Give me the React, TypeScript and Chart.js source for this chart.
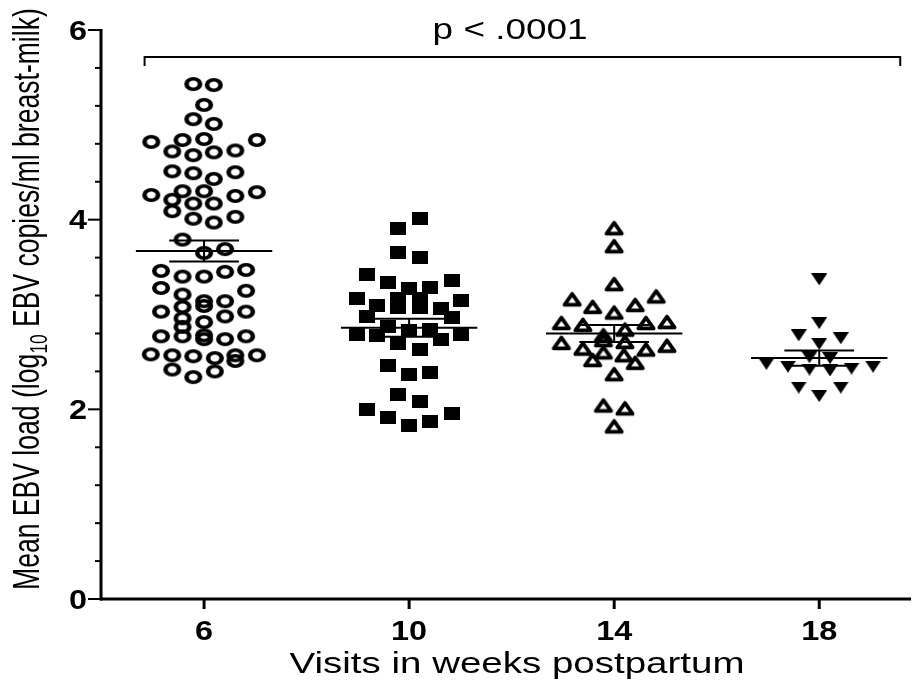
import React, { useEffect, useRef } from 'react';
import { Chart, registerables } from 'chart.js';

Chart.register(...registerables);

// ---------------- data ----------------
const weekTicks = [6, 10, 14, 18];
const weekTickLabels = ['6', '10', '14', '18'];
const yMajorTicks = [0, 2, 4, 6];
const yMajorLabels = ['0', '2', '4', '6'];
const yMinorTicks = [0.4, 0.8, 1.2, 1.6, 2.4, 2.8, 3.2, 3.6, 4.4, 4.8, 5.2, 5.6];

const week6X = [5.79, 6.19, 6.0, 5.79, 6.19, 4.97, 5.58, 6.0, 7.03, 5.38,
  5.79, 6.19, 6.61, 5.38, 5.79, 6.19, 6.61, 4.97, 5.58, 6.0,
  6.61, 7.03, 5.38, 5.79, 6.19, 5.38, 5.79, 6.19, 6.61, 5.58,
  6.0, 6.41, 5.16, 5.58, 6.0, 6.41, 6.82, 5.16, 6.82, 5.58,
  6.0, 6.0, 6.41, 5.16, 5.58, 5.58, 6.0, 6.41, 6.82, 5.58,
  5.16, 5.58, 6.0, 6.0, 6.41, 6.82, 4.96, 5.38, 5.79, 6.21,
  6.61, 6.61, 7.03, 5.38, 5.79, 6.21];
const week6Y = [5.43, 5.42, 5.21, 5.06, 5.01, 4.82, 4.84, 4.85, 4.84, 4.72,
  4.68, 4.71, 4.73, 4.51, 4.49, 4.43, 4.5, 4.26, 4.3, 4.3,
  4.25, 4.29, 4.21, 4.17, 4.17, 4.09, 4.01, 3.97, 4.03, 3.79,
  3.65, 3.69, 3.46, 3.4, 3.4, 3.45, 3.47, 3.28, 3.25, 3.21,
  3.14, 3.09, 3.14, 3.03, 3.08, 2.96, 2.92, 2.98, 3.03, 2.87,
  2.77, 2.77, 2.78, 2.74, 2.74, 2.77, 2.58, 2.57, 2.56, 2.54,
  2.57, 2.51, 2.57, 2.42, 2.34, 2.4];

const week10X = [10.22, 9.79, 9.79, 10.22, 9.18, 9.59, 10.83, 10.0, 10.41, 8.98,
  11.02, 9.79, 9.79, 10.22, 10.22, 9.38, 10.62, 9.18, 10.83, 9.59,
  10.0, 10.41, 8.98, 9.38, 10.62, 11.02, 9.79, 10.22, 9.59, 10.0,
  10.41, 9.79, 10.22, 9.18, 9.59, 10.0, 10.41, 10.83];
const week10Y = [4.01, 3.91, 3.65, 3.6, 3.42, 3.34, 3.36, 3.27, 3.28, 3.17,
  3.15, 3.17, 3.07, 3.17, 3.07, 3.09, 3.06, 2.98, 2.97, 2.87,
  2.83, 2.84, 2.79, 2.78, 2.74, 2.79, 2.69, 2.63, 2.46, 2.37,
  2.39, 2.16, 2.08, 2.0, 1.91, 1.83, 1.87, 1.96];

const week14X = [14.0, 14.0, 14.0, 13.18, 14.82, 13.58, 14.41, 14.0, 12.97, 13.39,
  14.62, 15.03, 14.21, 13.79, 13.79, 14.21, 12.97, 15.03, 13.39, 14.62,
  13.79, 14.19, 13.58, 14.41, 14.0, 13.79, 14.21, 14.0];
const week14Y = [3.91, 3.72, 3.32, 3.16, 3.19, 3.08, 3.1, 3.02, 2.91, 2.89,
  2.91, 2.92, 2.84, 2.78, 2.73, 2.71, 2.7, 2.67, 2.64, 2.63,
  2.6, 2.57, 2.52, 2.49, 2.37, 2.04, 2.01, 1.82];

const week18X = [18.0, 18.0, 17.6, 18.42, 18.0, 17.81, 18.21, 16.97, 17.39, 17.81,
  18.21, 18.63, 19.05, 17.6, 18.42, 18.0];
const week18Y = [3.37, 2.91, 2.78, 2.75, 2.69, 2.55, 2.54, 2.48, 2.45, 2.42,
  2.41, 2.43, 2.45, 2.23, 2.23, 2.14];

const groupMeans = [3.67, 2.86, 2.8, 2.54];
const groupSEM = [0.11, 0.095, 0.09, 0.08];

const bracketX = [4.84, 4.84, 19.58, 19.58];
const bracketY = [5.62, 5.715, 5.715, 5.62];
const pValueText = 'p < .0001';
const pValueWeek = 11.97;

const xTitle = 'Visits in weeks postpartum';
const yTitleMain = 'Mean EBV load (log';
const yTitleSub = '10';
const yTitleEnd = ' EBV copies/ml breast-milk)';

// ---------------- style ----------------
const FONT = '"Liberation Sans", Arial, Helvetica, sans-serif';
const MEAN_HALF = 1.33;
const SEM_HALF = 0.68;

function makeCanvas(w: number, h: number, draw: (c: CanvasRenderingContext2D) => void) {
  const c = document.createElement('canvas');
  c.width = w;
  c.height = h;
  const ctx = c.getContext('2d') as CanvasRenderingContext2D;
  draw(ctx);
  return c;
}

function markerCircle() {
  return makeCanvas(22, 18, (ctx) => {
    ctx.translate(11, 9);
    ctx.scale(1.3, 1);
    ctx.beginPath();
    ctx.arc(0, 0, 5.2, 0, Math.PI * 2);
    ctx.lineWidth = 3.5;
    ctx.strokeStyle = '#000';
    ctx.stroke();
  });
}
function markerSquare() {
  return makeCanvas(16, 13, (ctx) => {
    ctx.fillStyle = '#000';
    ctx.fillRect(0, 0, 16, 13);
  });
}
function markerTriUp() {
  return makeCanvas(22, 18, (ctx) => {
    ctx.beginPath();
    ctx.moveTo(11, 3.6);
    ctx.lineTo(18.6, 14.4);
    ctx.lineTo(3.4, 14.4);
    ctx.closePath();
    ctx.lineWidth = 3.8;
    ctx.lineJoin = 'round';
    ctx.strokeStyle = '#000';
    ctx.stroke();
  });
}
function markerTriDown() {
  return makeCanvas(16, 12, (ctx) => {
    ctx.beginPath();
    ctx.moveTo(0, 0);
    ctx.lineTo(16, 0);
    ctx.lineTo(8, 12);
    ctx.closePath();
    ctx.fillStyle = '#000';
    ctx.fill();
  });
}

function drawText(ctx: CanvasRenderingContext2D, text: string, x: number, y: number,
  font: string, sx: number, align: CanvasTextAlign) {
  ctx.save();
  ctx.font = font;
  ctx.translate(x, y);
  ctx.scale(sx, 1);
  ctx.textAlign = align;
  ctx.textBaseline = 'alphabetic';
  ctx.fillStyle = '#000';
  ctx.fillText(text, 0, 0);
  ctx.restore();
}

function widthOf(ctx: CanvasRenderingContext2D, text: string, font: string) {
  ctx.save();
  ctx.font = font;
  const w = ctx.measureText(text).width;
  ctx.restore();
  return w;
}

const axesPlugin = {
  id: 'graphpadAxes',
  beforeDatasetsDraw(chart: any) {
    const ctx: CanvasRenderingContext2D = chart.ctx;
    const xs = chart.scales.x;
    const ys = chart.scales.y;
    const left = chart.chartArea.left;
    const right = chart.chartArea.right;
    const y0 = ys.getPixelForValue(0);
    const yTop = ys.getPixelForValue(6);
    ctx.save();
    ctx.strokeStyle = '#000';
    ctx.lineCap = 'butt';
    ctx.lineWidth = 3;
    ctx.beginPath();
    ctx.moveTo(left + 1, yTop - 1);
    ctx.lineTo(left + 1, y0 + 1.5);
    ctx.stroke();
    ctx.lineWidth = 3;
    ctx.beginPath();
    ctx.moveTo(left, y0);
    ctx.lineTo(right, y0);
    ctx.stroke();
    ctx.lineWidth = 2;
    yMajorTicks.forEach((v) => {
      const p = ys.getPixelForValue(v);
      ctx.beginPath();
      ctx.moveTo(left - 12, p);
      ctx.lineTo(left, p);
      ctx.stroke();
    });
    yMinorTicks.forEach((v) => {
      const p = ys.getPixelForValue(v);
      ctx.beginPath();
      ctx.moveTo(left - 5, p);
      ctx.lineTo(left, p);
      ctx.stroke();
    });
    ctx.lineWidth = 3;
    weekTicks.forEach((w) => {
      const p = xs.getPixelForValue(w);
      ctx.beginPath();
      ctx.moveTo(p, y0);
      ctx.lineTo(p, y0 + 10);
      ctx.stroke();
    });
    ctx.restore();
  },
  afterDraw(chart: any) {
    const ctx: CanvasRenderingContext2D = chart.ctx;
    const xs = chart.scales.x;
    const ys = chart.scales.y;
    const left = chart.chartArea.left;
    const y0 = ys.getPixelForValue(0);
    const tickFont = `bold 27px ${FONT}`;
    yMajorTicks.forEach((v, i) => {
      const p = ys.getPixelForValue(v);
      drawText(ctx, yMajorLabels[i], left - 13, p + 9.5, tickFont, 1.2, 'right');
    });
    weekTicks.forEach((w, i) => {
      const p = xs.getPixelForValue(w);
      drawText(ctx, weekTickLabels[i], p, y0 + 41, tickFont, 1.2, 'center');
    });
    const xFont = `30px ${FONT}`;
    const xw = widthOf(ctx, xTitle, xFont);
    drawText(ctx, xTitle, 517, 673, xFont, 455 / xw, 'center');
    const pFont = `29px ${FONT}`;
    const pw = widthOf(ctx, pValueText, pFont);
    drawText(ctx, pValueText, xs.getPixelForValue(pValueWeek), 39, pFont, 155 / pw, 'center');
    // y title (rotated, with subscript)
    const baseF = 26;
    const w1 = widthOf(ctx, yTitleMain, `${baseF}px ${FONT}`);
    const w3 = widthOf(ctx, yTitleEnd, `${baseF}px ${FONT}`);
    const w2 = widthOf(ctx, yTitleSub, `${baseF * 0.65}px ${FONT}`);
    const total = w1 + w2 + w3;
    const targetLen = 582;
    const f = baseF * targetLen / total;
    const sx = 36 / (0.96 * f);
    const cx = 29 + 0.27 * f * sx;
    const cy = 299;
    ctx.save();
    ctx.translate(cx, cy);
    ctx.scale(sx, 1);
    ctx.rotate(-Math.PI / 2);
    ctx.fillStyle = '#000';
    ctx.textBaseline = 'alphabetic';
    ctx.textAlign = 'left';
    const k = f / baseF;
    let u = -total * k / 2;
    ctx.font = `${f}px ${FONT}`;
    ctx.fillText(yTitleMain, u, 0);
    u += w1 * k;
    ctx.font = `${f * 0.65}px ${FONT}`;
    ctx.fillText(yTitleSub, u, f * 0.22);
    u += w2 * k;
    ctx.font = `${f}px ${FONT}`;
    ctx.fillText(yTitleEnd, u, 0);
    ctx.restore();
  },
};

function zip(xs: number[], ys: number[]) {
  return xs.map((x, i) => ({ x, y: ys[i] }));
}

export default function App() {
  const ref = useRef<HTMLCanvasElement | null>(null);
  useEffect(() => {
    const canvas = ref.current;
    if (!canvas) return;
    const lineStyle = {
      showLine: true,
      borderColor: '#000',
      borderWidth: 2,
      pointRadius: 0,
      fill: false,
      order: 0,
      clip: false as any,
    };
    const segs: any[] = [];
    weekTicks.forEach((w, i) => {
      const m = groupMeans[i];
      const s = groupSEM[i];
      segs.push([{ x: w - MEAN_HALF, y: m }, { x: w + MEAN_HALF, y: m }]);
      segs.push([{ x: w - SEM_HALF, y: m + s }, { x: w + SEM_HALF, y: m + s }]);
      segs.push([{ x: w - SEM_HALF, y: m - s }, { x: w + SEM_HALF, y: m - s }]);
      segs.push([{ x: w, y: m - s }, { x: w, y: m + s }]);
    });
    segs.push(zip(bracketX, bracketY));
    const lineSets = segs.map((d) => ({ ...lineStyle, data: d }));
    const pointSet = (data: any[], style: any) => ({
      data,
      pointStyle: style,
      pointRadius: 8,
      showLine: false,
      order: 1,
      clip: false as any,
    });
    const chart = new Chart(canvas, {
      type: 'scatter',
      data: {
        datasets: [
          ...lineSets,
          pointSet(zip(week6X, week6Y), markerCircle()),
          pointSet(zip(week10X, week10Y), markerSquare()),
          pointSet(zip(week14X, week14Y), markerTriUp()),
          pointSet(zip(week18X, week18Y), markerTriDown()),
        ] as any,
      },
      options: {
        responsive: false,
        animation: false,
        events: [],
        layout: { padding: { left: 100, right: 0, top: 30, bottom: 84 } },
        scales: {
          x: { type: 'linear', min: 3.97, max: 19.79, display: false },
          y: { type: 'linear', min: 0, max: 6, display: false },
        },
        plugins: { legend: { display: false }, tooltip: { enabled: false } },
      },
      plugins: [axesPlugin],
    });
    return () => chart.destroy();
  }, []);
  return (
    <div style={{ position: 'absolute', left: 0, top: 0, width: 920, height: 683, background: '#fff' }}>
      <canvas ref={ref} width={920} height={683} style={{ display: 'block' }} />
    </div>
  );
}
